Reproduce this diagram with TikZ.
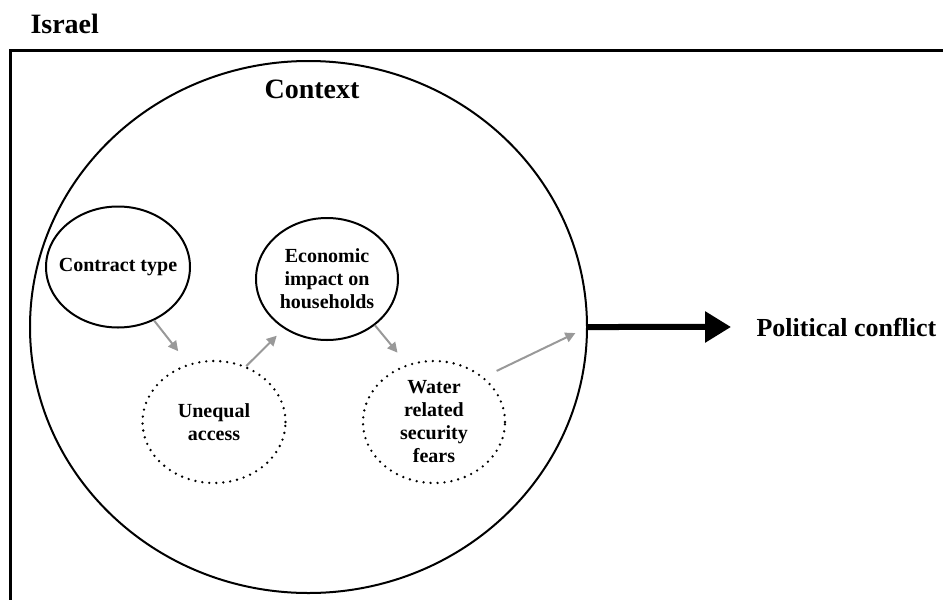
\documentclass[tikz,border=0pt]{standalone}
\usepackage{fontspec}
\setmainfont{Liberation Serif}
\usetikzlibrary{shapes.geometric,arrows.meta}

\begin{document}
\begin{tikzpicture}[x=1pt,y=-1pt,
    ring/.style={ellipse,draw,line width=2pt,inner sep=0pt},
    dotring/.style={ring,line width=2.6pt,line cap=round,dash pattern=on 0pt off 7pt},
    lbl/.style={font=\bfseries\fontsize{20}{23}\selectfont,align=center},
    head/.style={font=\bfseries\fontsize{28}{32}\selectfont,anchor=base west},
    flow/.style={draw=black!40,line width=2pt,-{Triangle[length=10pt,width=10pt]}}]
\useasboundingbox (0,0) rectangle (943,600);
\clip (0,0) rectangle (943,600);
\draw[line width=3pt] (10,50) rectangle (990,650);
\node[head] (isr) at (27,33) {Israel};
\node[ring,minimum width=557pt,minimum height=532pt] (ctx) at (308.5,327) {};
\node[head] (ctxl) at (261,98) {Context};
\node[ring,minimum width=144pt,minimum height=121pt,label={[lbl]center:Contract type}] (ct) at (118,267) {};
\node[dotring,minimum width=143pt,minimum height=122pt,label={[lbl]center:Unequal\\access}] (ua) at (214,422) {};
\node[ring,minimum width=142pt,minimum height=122pt,label={[lbl]center:Economic\\impact on\\households}] (eco) at (327,279) {};
\node[dotring,minimum width=142pt,minimum height=122pt,label={[lbl]center:Water\\related\\security\\fears}] (wr) at (434,422) {};
\node[head,font=\bfseries\fontsize{26}{30}\selectfont] (pc) at (753,336) {Political conflict};
% gray links inside the context
\draw[flow,shorten >=16pt] (ct.-56) -- (ua.114);
\draw[flow,shorten >=10pt] (ua.60) -- (eco.-131);
\draw[flow,shorten >=15pt] (eco.-44) -- (wr.115);
\draw[flow,shorten <=14pt,shorten >=14pt] (wr.42) -- (ctx.east);
% outcome
\draw[line width=6pt,-{Triangle[length=26pt,width=30pt]},shorten >=22pt] (ctx.east) -- (pc.west);
\end{tikzpicture}
\end{document}
